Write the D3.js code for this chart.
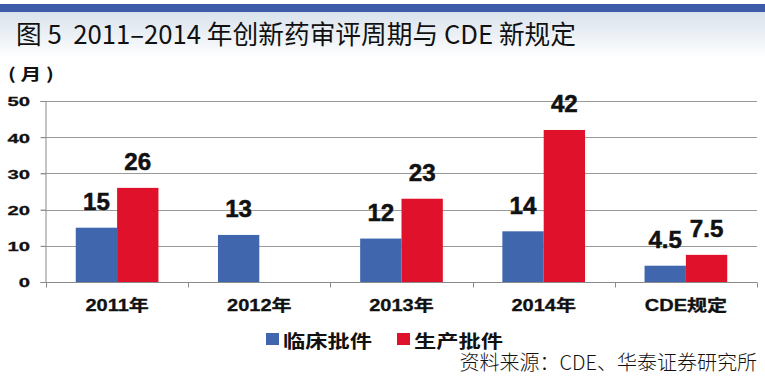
<!DOCTYPE html>
<html><head><meta charset="utf-8">
<script src="https://cdn.jsdelivr.net/npm/d3@7"></script>
<style>
html,body{margin:0;padding:0;background:#fff;}
svg{display:block;}
</style></head>
<body>
<svg id="chart" width="765" height="383"></svg>
<script>
const categories = ["2011年", "2012年", "2013年", "2014年", "CDE规定"];
const seriesNames = ["临床批件", "生产批件"];
const clinical = [15, 13, 12, 14, 4.5];
const production = [26, null, 23, 42, 7.5];
const labelsClinical = ["15", "13", "12", "14", "4.5"];
const labelsProduction = ["26", "", "23", "42", "7.5"];
const yTicks = [0, 10, 20, 30, 40, 50];
const title = "图 5  2011–2014 年创新药审评周期与 CDE 新规定";
const unitLabel = "( 月 )";
const source = "资料来源：CDE、华泰证券研究所";
const colors = ["#4066ad", "#e0112b"];

const svg = d3.select("#chart");
const W = 765, H = 383;

// header
const defs = svg.append("defs");
const grad = defs.append("linearGradient").attr("id", "hdr").attr("x1", 0).attr("x2", 0).attr("y1", 0).attr("y2", 1);
grad.append("stop").attr("offset", "0%").attr("stop-color", "#d9e2ec");
grad.append("stop").attr("offset", "100%").attr("stop-color", "#ffffff");
svg.append("rect").attr("x", 0).attr("y", 12).attr("width", W).attr("height", 46).attr("fill", "url(#hdr)");
svg.append("rect").attr("x", 0).attr("y", 4).attr("width", W).attr("height", 8).attr("fill", "#3d5ba9");

svg.append("text").attr("x", 16).attr("y", 44)
  .style("white-space", "pre")
  .attr("font-family", "'Noto Sans CJK SC', 'Noto Sans', sans-serif")
  .attr("font-size", 26).attr("fill", "#111")
  .attr("textLength", 560).attr("lengthAdjust", "spacingAndGlyphs")
  .text(title);

// scales
const x0 = d3.scaleBand().domain(categories).range([46, 757]).paddingInner(0).paddingOuter(0);
const x1 = d3.scaleBand().domain(seriesNames).range([0, x0.bandwidth()]).paddingInner(0).paddingOuter(0.72);
const y = d3.scaleLinear().domain([0, 50]).range([282, 101]);

function stretch(sel, factor) {
  sel.each(function () {
    const w = this.getComputedTextLength();
    d3.select(this).attr("textLength", w * factor).attr("lengthAdjust", "spacingAndGlyphs");
  });
}

// gridlines
const grid = svg.append("g");
grid.selectAll("line").data(yTicks.filter(d => d > 0)).join("line")
  .attr("x1", 41).attr("x2", 757)
  .attr("y1", d => Math.round(y(d)) + 0.5).attr("y2", d => Math.round(y(d)) + 0.5)
  .attr("stroke", "#9a9a9a").attr("stroke-width", 1);

// y axis
const yAxis = svg.append("g").attr("transform", "translate(45.5,0)")
  .call(d3.axisLeft(y).tickValues(yTicks).tickSize(5).tickFormat(d3.format("d")));
yAxis.select(".domain").attr("stroke", "#8a8a8a");
yAxis.selectAll(".tick line").attr("stroke", "#8a8a8a");
yAxis.selectAll(".tick text")
  .attr("x", -15.5).attr("dy", "0.36em")
  .attr("font-family", "'Liberation Sans', Arial, sans-serif")
  .attr("font-weight", "bold").attr("font-size", 13.5).attr("fill", "#111")
  .attr("stroke", "#111").attr("stroke-width", 0.3)
  .call(stretch, 1.5);

// bars
const rows = categories.map((c, i) => ({ cat: c, vals: [clinical[i], production[i]], labs: [labelsClinical[i], labelsProduction[i]] }));
const groups = svg.append("g").selectAll("g").data(rows).join("g")
  .attr("transform", d => `translate(${x0(d.cat)},0)`);
const items = groups.selectAll("g.item")
  .data(d => seriesNames.map((s, j) => ({ s, j, v: d.vals[j], lab: d.labs[j] })).filter(e => e.v != null))
  .join("g").attr("class", "item");
items.append("rect")
  .attr("x", d => x1(d.s)).attr("width", x1.bandwidth())
  .attr("y", d => y(d.v)).attr("height", d => y(0) - y(d.v))
  .attr("fill", d => colors[d.j]);
items.append("text")
  .attr("x", d => x1(d.s) + x1.bandwidth() / 2)
  .attr("y", d => y(d.v) - 17.5)
  .attr("text-anchor", "middle")
  .attr("font-family", "'Liberation Sans', Arial, sans-serif")
  .attr("font-weight", "bold").attr("font-size", 23).attr("fill", "#111")
  .attr("stroke", "#111").attr("stroke-width", 0.5)
  .text(d => d.lab)
  .call(stretch, 1.05);

// x axis
const xAxis = svg.append("g").attr("transform", "translate(0,282.5)");
xAxis.append("line").attr("x1", 45).attr("x2", 757).attr("stroke", "#8a8a8a");
const bounds = categories.map(c => x0(c)).concat([x0.range()[1]]);
xAxis.selectAll("line.tk").data(bounds).join("line").attr("class", "tk")
  .attr("x1", d => Math.round(d) + 0.5).attr("x2", d => Math.round(d) + 0.5)
  .attr("y1", 0).attr("y2", 5).attr("stroke", "#8a8a8a");
xAxis.selectAll("text").data(categories).join("text")
  .attr("x", d => x0(d) + x0.bandwidth() / 2).attr("y", 28.5)
  .attr("text-anchor", "middle")
  .attr("font-family", "'Liberation Sans', Arial, 'Noto Sans CJK SC', sans-serif")
  .attr("font-weight", "bold").attr("font-size", 16).attr("fill", "#111")
  .attr("stroke", "#111").attr("stroke-width", 0.3)
  .text(d => d)
  .call(stretch, 1.25);

// unit label
svg.append("text").attr("x", 8).attr("y", 80)
  .attr("font-family", "'Noto Sans CJK SC', sans-serif")
  .attr("font-weight", "bold").attr("font-size", 16).attr("fill", "#111")
  .attr("textLength", 46).attr("lengthAdjust", "spacingAndGlyphs")
  .text(unitLabel);

// legend
const legendX = [266, 397];
const leg = svg.append("g").selectAll("g").data(seriesNames).join("g")
  .attr("transform", (d, i) => `translate(${legendX[i]},0)`);
leg.append("rect").attr("x", 0).attr("y", 333).attr("width", 13).attr("height", 12)
  .attr("fill", (d, i) => colors[i]);
leg.append("text").attr("x", 17).attr("y", 347.5)
  .attr("font-family", "'Noto Sans CJK SC', sans-serif")
  .attr("font-weight", "bold").attr("font-size", 18).attr("fill", "#111")
  .attr("textLength", 89).attr("lengthAdjust", "spacingAndGlyphs")
  .text(d => d);

// source
svg.append("text").attr("x", 757).attr("y", 370)
  .attr("text-anchor", "end")
  .attr("font-family", "'Noto Sans CJK SC', sans-serif")
  .attr("font-weight", 300).attr("font-size", 20).attr("fill", "#111")
  .text(source);
</script>
</body></html>
